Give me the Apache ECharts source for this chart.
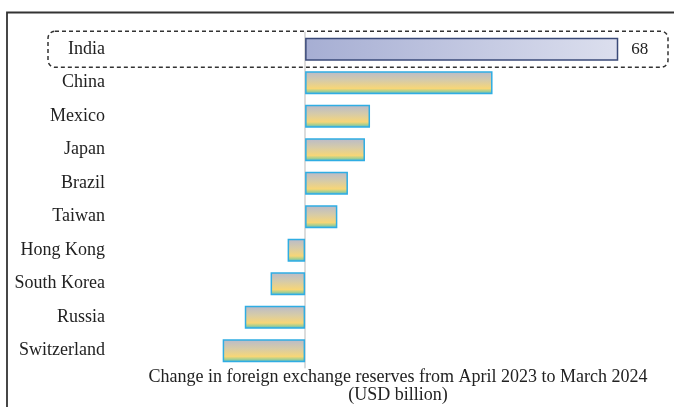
<!DOCTYPE html>
<html>
<head>
<meta charset="utf-8">
<script src="https://cdn.jsdelivr.net/npm/echarts@6/dist/echarts.min.js"></script>
<style>
  html, body { margin: 0; padding: 0; background: #fff; }
  #reserveChart { width: 674px; height: 407px; }
</style>
</head>
<body>
<div id="reserveChart"></div>
<script>
// change in FX reserves, Apr 2023 - Mar 2024 (USD bn)
const countries = ['India', 'China', 'Mexico', 'Japan', 'Brazil', 'Taiwan', 'Hong Kong', 'South Korea', 'Russia', 'Switzerland'];
const changeValues = [68, 40.7, 14.1, 13, 9.3, 7, -3.8, -7.5, -13.1, -17.9];
const highlightName = 'India';
const axisTitle = 'Change in foreign exchange reserves from April 2023 to March 2024\n(USD billion)';

const serif = '"Liberation Serif", "DejaVu Serif", serif';

// normal bars: grey on top fading to yellow, green/blue at bottom
const goldFill = new echarts.graphic.LinearGradient(0, 0, 0, 1, [
  { offset: 0, color: '#b8bacb' },
  { offset: 0.4, color: '#d6cba8' },
  { offset: 0.75, color: '#f7d677' },
  { offset: 0.87, color: '#a9cf8e' },
  { offset: 1, color: '#3db2e2' }
]);
// highlighted bar (India)
const indiaFill = new echarts.graphic.LinearGradient(0, 0, 1, 0, [
  { offset: 0, color: '#a6aed3' },
  { offset: 1, color: '#dcdfee' }
]);

let barData = countries.map((name, i) => {
  let item = { value: changeValues[i] };
  if (name === highlightName) {
    item.itemStyle = { color: indiaFill, borderColor: '#3a4a78', borderWidth: 1.5 };
    item.label = {
      show: true,
      position: 'right',
      distance: 13,
      color: '#222',
      fontFamily: serif,
      fontSize: 17
    };
  }
  return item;
});

let option = {
  animation: false,
  title: {
    text: axisTitle,
    left: 393,
    top: 363,
    textAlign: 'center',
    textStyle: {
      fontFamily: serif,
      fontSize: 18,
      fontWeight: 'normal',
      color: '#222',
      lineHeight: 18
    }
  },
  grid: {
    left: 213,
    right: 23.5,
    top: 32.5,
    bottom: 39.5,
    outerBoundsMode: 'none',
    containLabel: false
  },
  xAxis: {
    type: 'value',
    min: -20,
    max: 75,
    show: false
  },
  yAxis: {
    type: 'category',
    data: countries,
    inverse: true,
    axisLine: { onZero: true, lineStyle: { color: '#dcdcdc', width: 2 } },
    axisTick: { show: false },
    axisLabel: {
      margin: 108,
      color: '#222',
      fontFamily: serif,
      fontSize: 18
    }
  },
  series: [
    {
      type: 'bar',
      data: barData,
      barWidth: 23,
      itemStyle: {
        color: goldFill,
        borderColor: '#2fade3',
        borderWidth: 1.5
      }
    }
  ]
};

let myChart = echarts.init(document.getElementById('reserveChart'));
myChart.setOption(option);

// frame + dashed box round the highlighted row
let rowY = myChart.convertToPixel({ yAxisIndex: 0 }, highlightName);
myChart.setOption({
  graphic: [
    {
      type: 'polyline',
      shape: { points: [[7, 407], [7, 12.5], [674, 12.5]] },
      style: { stroke: '#333', lineWidth: 1.8, fill: null }
    },
    {
      type: 'rect',
      shape: { x: 48, y: rowY - 18, width: 620, height: 36, r: 7 },
      style: { fill: null, stroke: '#333', lineWidth: 1.5, lineDash: [4, 3] }
    }
  ]
});
</script>
</body>
</html>
